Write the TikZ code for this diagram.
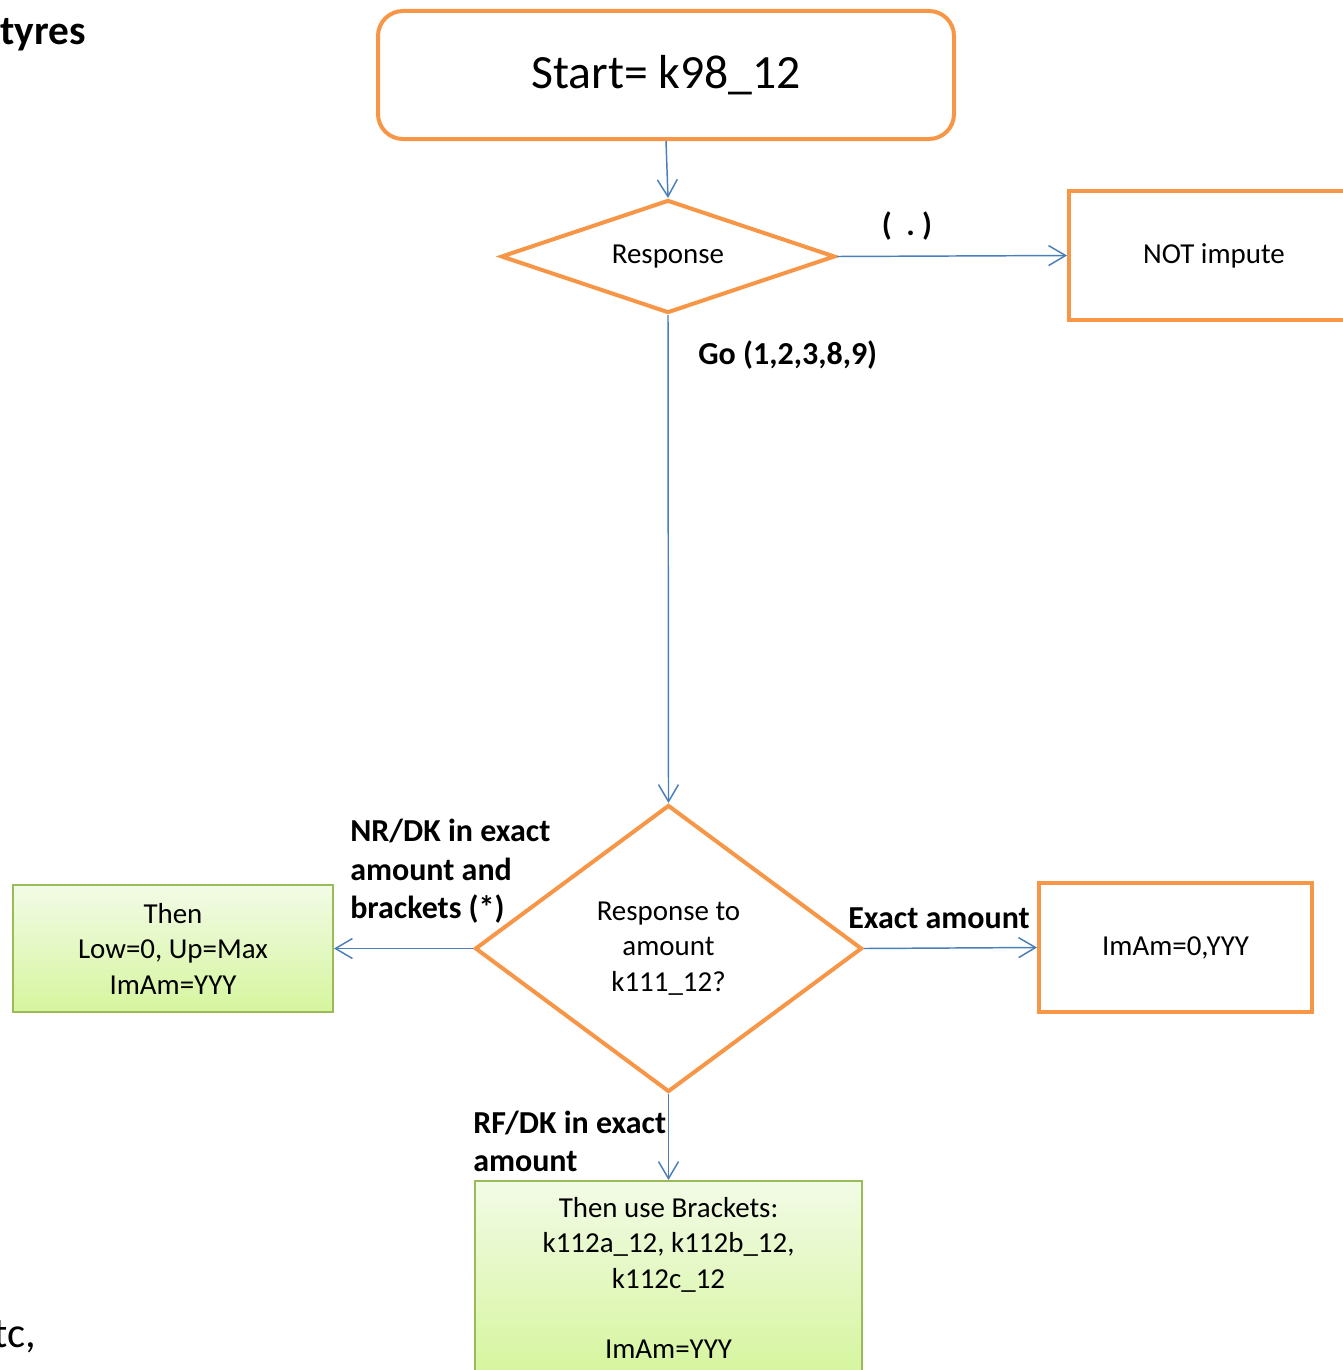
\documentclass[tikz,border=0pt]{standalone}
\usepackage{fontspec}
\setmainfont{Carlito}
\usetikzlibrary{shapes.geometric,arrows.meta}
\definecolor{orng}{HTML}{F79646}
\definecolor{bluec}{HTML}{4A7EBB}
\definecolor{grnb}{HTML}{9BBB59}
\definecolor{grntop}{RGB}{242,251,230}
\definecolor{grnbot}{RGB}{214,245,158}
\begin{document}
\begin{tikzpicture}[x=0.75pt,y=-0.75pt,
  txt/.style={font=\fontsize{21.7}{26.6}\selectfont},
  lbl/.style={font=\bfseries\fontsize{24}{28.9}\selectfont, inner sep=0pt, align=left},
  startbox/.style={draw=orng, line width=3pt, rounded corners=18.75pt, minimum width=432pt, minimum height=96pt, font=\fontsize{35.8}{43}\selectfont},
  obox/.style={draw=orng, line width=3pt, txt, align=center},
  dia/.style={diamond, draw=orng, line width=3pt, inner sep=0pt, txt, align=center},
  gbox/.style={draw=grnb, line width=1.5pt, top color=grntop, bottom color=grnbot, txt, align=center},
  conn/.style={draw=bluec, line width=1.1pt, -{Straight Barb[length=12.75pt, width=15pt, line width=1.1pt]}}
]
\useasboundingbox (0,0) rectangle (1342,1370);

\node[startbox] (start) at (666,75) {Start= k98\_12};
\node[dia, shape aspect=2.96, minimum width=250.5pt, minimum height=84.75pt] (resp) at (668,256.5) {Response};
\node[obox, minimum width=217.5pt, minimum height=96.75pt] (notimp) at (1214,255.5) {NOT impute};
\node[dia, shape aspect=1.35, minimum width=290.25pt, minimum height=215.25pt] (amt) at (668.5,948.5) {Response to\\amount\\k111\_12?};
\node[gbox, minimum width=240pt, minimum height=95.25pt] (low) at (173,948.5) {Then\\Low=0, Up=Max\\ImAm=YYY};
\node[obox, minimum width=204.75pt, minimum height=96.75pt] (exact) at (1175.5,947.5) {ImAm=0,YYY};
\node[gbox, minimum width=290.25pt, minimum height=145.5pt] (brk) at (668.5,1278) {Then use Brackets:\\k112a\_12, k112b\_12,\\k112c\_12\\[26.6pt]ImAm=YYY};

\draw[conn] (start.south) -- (resp.north);
\draw[conn] (resp.east) -- (notimp.west);
\draw[conn] (resp.south) -- (amt.north);
\draw[conn] (amt.west) -- (low.east);
\draw[conn] (amt.east) -- (exact.west);
\draw[conn] (amt.south) -- (brk.north);

\node[lbl] (ldot) at (907,226) {(\ \ .\ )};
\node[lbl, anchor=west] (lgo) at (698,355) {Go (1,2,3,8,9)};
\node[lbl, anchor=west] (lnr) at (350,871.5) {NR/DK in exact\\amount and\\brackets (*)};
\node[lbl] (lex) at (939,918) {Exact amount};
\node[lbl, anchor=west] (lrf) at (473,1141.5) {RF/DK in exact\\amount};

\node[font=\bfseries\fontsize{31}{37}\selectfont, inner sep=0pt, anchor=west] (tyres) at (0,35) {tyres};
\node[font=\fontsize{32}{38}\selectfont, inner sep=0pt, anchor=base east] (etc) at (36,1347) {etc,};
\end{tikzpicture}
\end{document}
